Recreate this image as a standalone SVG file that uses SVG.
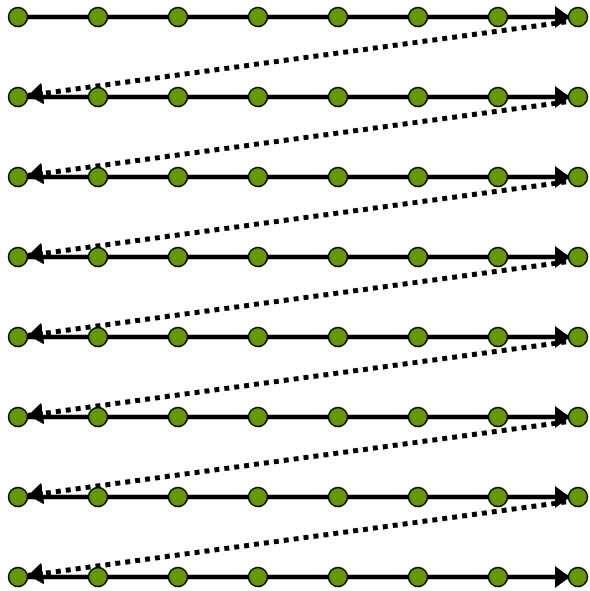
<svg xmlns="http://www.w3.org/2000/svg" width="590" height="591" viewBox="0 0 590 591">
<style>
.row{stroke:#000;stroke-width:4.5;fill:none;marker-end:url(#ah)}
.jump{stroke:#000;stroke-width:5;fill:none;stroke-dasharray:5 5;marker-end:url(#ah2)}
.n{fill:#669900;stroke:#000;stroke-width:1.5}
</style>
<defs>
<marker id="ah" markerUnits="userSpaceOnUse" markerWidth="16" markerHeight="22" refX="15" refY="11" orient="auto" viewBox="0 0 16 22">
<path d="M0,0 L15,11 L0,22 z" fill="#000"/>
</marker>
<marker id="ah2" markerUnits="userSpaceOnUse" markerWidth="16" markerHeight="22" refX="15" refY="11" orient="auto" viewBox="0 0 16 22">
<path d="M0,0 L15,11 L0,22 z" fill="#000"/>
</marker>
</defs>
<rect width="590" height="591" fill="#fff"/>
<g id="connectors">
<line class="row" x1="18" y1="17" x2="570" y2="17"/>
<line class="row" x1="18" y1="97" x2="570" y2="97"/>
<line class="row" x1="18" y1="177" x2="570" y2="177"/>
<line class="row" x1="18" y1="257" x2="570" y2="257"/>
<line class="row" x1="18" y1="337" x2="570" y2="337"/>
<line class="row" x1="18" y1="417" x2="570" y2="417"/>
<line class="row" x1="18" y1="497" x2="570" y2="497"/>
<line class="row" x1="18" y1="577" x2="570" y2="577"/>
<line class="jump" x1="576" y1="20.5" x2="28" y2="95.5"/>
<line class="jump" x1="576" y1="100.5" x2="28" y2="175.5"/>
<line class="jump" x1="576" y1="180.5" x2="28" y2="255.5"/>
<line class="jump" x1="576" y1="260.5" x2="28" y2="335.5"/>
<line class="jump" x1="576" y1="340.5" x2="28" y2="415.5"/>
<line class="jump" x1="576" y1="420.5" x2="28" y2="495.5"/>
<line class="jump" x1="576" y1="500.5" x2="28" y2="575.5"/>
</g>
<g id="nodes">
<g id="r1"><circle id="n1_1" class="n" cx="18" cy="17" r="9.5"/><circle id="n1_2" class="n" cx="98" cy="17" r="9.5"/><circle id="n1_3" class="n" cx="178" cy="17" r="9.5"/><circle id="n1_4" class="n" cx="258" cy="17" r="9.5"/><circle id="n1_5" class="n" cx="338" cy="17" r="9.5"/><circle id="n1_6" class="n" cx="418" cy="17" r="9.5"/><circle id="n1_7" class="n" cx="498" cy="17" r="9.5"/><circle id="n1_8" class="n" cx="578" cy="17" r="9.5"/></g>
<g id="r2"><circle id="n2_1" class="n" cx="18" cy="97" r="9.5"/><circle id="n2_2" class="n" cx="98" cy="97" r="9.5"/><circle id="n2_3" class="n" cx="178" cy="97" r="9.5"/><circle id="n2_4" class="n" cx="258" cy="97" r="9.5"/><circle id="n2_5" class="n" cx="338" cy="97" r="9.5"/><circle id="n2_6" class="n" cx="418" cy="97" r="9.5"/><circle id="n2_7" class="n" cx="498" cy="97" r="9.5"/><circle id="n2_8" class="n" cx="578" cy="97" r="9.5"/></g>
<g id="r3"><circle id="n3_1" class="n" cx="18" cy="177" r="9.5"/><circle id="n3_2" class="n" cx="98" cy="177" r="9.5"/><circle id="n3_3" class="n" cx="178" cy="177" r="9.5"/><circle id="n3_4" class="n" cx="258" cy="177" r="9.5"/><circle id="n3_5" class="n" cx="338" cy="177" r="9.5"/><circle id="n3_6" class="n" cx="418" cy="177" r="9.5"/><circle id="n3_7" class="n" cx="498" cy="177" r="9.5"/><circle id="n3_8" class="n" cx="578" cy="177" r="9.5"/></g>
<g id="r4"><circle id="n4_1" class="n" cx="18" cy="257" r="9.5"/><circle id="n4_2" class="n" cx="98" cy="257" r="9.5"/><circle id="n4_3" class="n" cx="178" cy="257" r="9.5"/><circle id="n4_4" class="n" cx="258" cy="257" r="9.5"/><circle id="n4_5" class="n" cx="338" cy="257" r="9.5"/><circle id="n4_6" class="n" cx="418" cy="257" r="9.5"/><circle id="n4_7" class="n" cx="498" cy="257" r="9.5"/><circle id="n4_8" class="n" cx="578" cy="257" r="9.5"/></g>
<g id="r5"><circle id="n5_1" class="n" cx="18" cy="337" r="9.5"/><circle id="n5_2" class="n" cx="98" cy="337" r="9.5"/><circle id="n5_3" class="n" cx="178" cy="337" r="9.5"/><circle id="n5_4" class="n" cx="258" cy="337" r="9.5"/><circle id="n5_5" class="n" cx="338" cy="337" r="9.5"/><circle id="n5_6" class="n" cx="418" cy="337" r="9.5"/><circle id="n5_7" class="n" cx="498" cy="337" r="9.5"/><circle id="n5_8" class="n" cx="578" cy="337" r="9.5"/></g>
<g id="r6"><circle id="n6_1" class="n" cx="18" cy="417" r="9.5"/><circle id="n6_2" class="n" cx="98" cy="417" r="9.5"/><circle id="n6_3" class="n" cx="178" cy="417" r="9.5"/><circle id="n6_4" class="n" cx="258" cy="417" r="9.5"/><circle id="n6_5" class="n" cx="338" cy="417" r="9.5"/><circle id="n6_6" class="n" cx="418" cy="417" r="9.5"/><circle id="n6_7" class="n" cx="498" cy="417" r="9.5"/><circle id="n6_8" class="n" cx="578" cy="417" r="9.5"/></g>
<g id="r7"><circle id="n7_1" class="n" cx="18" cy="497" r="9.5"/><circle id="n7_2" class="n" cx="98" cy="497" r="9.5"/><circle id="n7_3" class="n" cx="178" cy="497" r="9.5"/><circle id="n7_4" class="n" cx="258" cy="497" r="9.5"/><circle id="n7_5" class="n" cx="338" cy="497" r="9.5"/><circle id="n7_6" class="n" cx="418" cy="497" r="9.5"/><circle id="n7_7" class="n" cx="498" cy="497" r="9.5"/><circle id="n7_8" class="n" cx="578" cy="497" r="9.5"/></g>
<g id="r8"><circle id="n8_1" class="n" cx="18" cy="577" r="9.5"/><circle id="n8_2" class="n" cx="98" cy="577" r="9.5"/><circle id="n8_3" class="n" cx="178" cy="577" r="9.5"/><circle id="n8_4" class="n" cx="258" cy="577" r="9.5"/><circle id="n8_5" class="n" cx="338" cy="577" r="9.5"/><circle id="n8_6" class="n" cx="418" cy="577" r="9.5"/><circle id="n8_7" class="n" cx="498" cy="577" r="9.5"/><circle id="n8_8" class="n" cx="578" cy="577" r="9.5"/></g>
</g>
</svg>
